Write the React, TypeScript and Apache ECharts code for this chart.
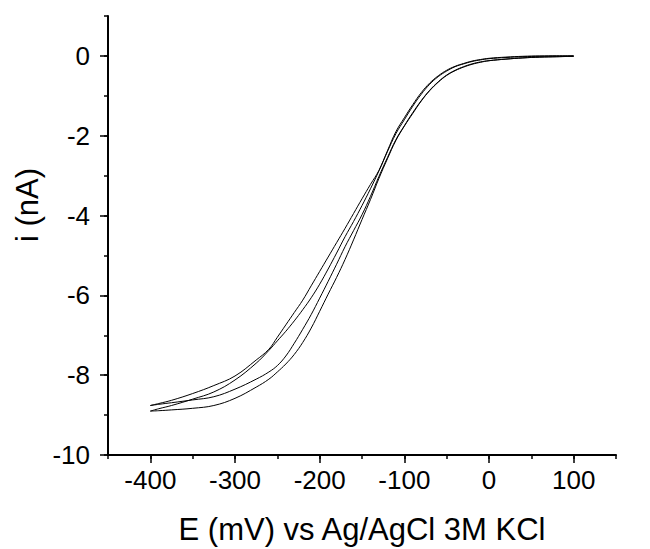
import React, { useEffect, useRef } from "react";
import * as echarts from "echarts";

const potential = [-400, -390, -375, -350, -325, -300, -275, -260, -250, -240, -230, -220, -210, -200, -190, -180, -170, -160, -150, -140, -130, -120, -110, -100, -90, -80, -70, -60, -50, -40, -30, -20, -10, 0, 20, 40, 60, 80, 100];

const trace1 = [-8.76, -8.71, -8.63, -8.46, -8.26, -8.02, -7.62, -7.35, -7.05, -6.74, -6.43, -6.12, -5.76, -5.40, -5.04, -4.68, -4.32, -3.95, -3.58, -3.22, -2.87, -2.38, -1.90, -1.55, -1.22, -0.92, -0.68, -0.50, -0.36, -0.26, -0.19, -0.13, -0.09, -0.06, -0.03, -0.01, 0, 0, 0];
const trace2 = [-8.90, -8.84, -8.76, -8.60, -8.42, -8.12, -7.70, -7.38, -7.14, -6.90, -6.64, -6.36, -6.06, -5.72, -5.34, -4.94, -4.53, -4.15, -3.75, -3.33, -2.88, -2.40, -1.95, -1.60, -1.26, -0.96, -0.71, -0.52, -0.38, -0.27, -0.20, -0.14, -0.10, -0.07, -0.04, -0.02, -0.01, 0, 0];
const trace3 = [-8.76, -8.73, -8.69, -8.62, -8.54, -8.35, -8.10, -7.92, -7.76, -7.52, -7.20, -6.85, -6.48, -6.07, -5.65, -5.22, -4.78, -4.38, -3.98, -3.52, -3.02, -2.55, -2.10, -1.75, -1.42, -1.12, -0.86, -0.65, -0.48, -0.36, -0.27, -0.20, -0.15, -0.12, -0.08, -0.05, -0.03, -0.02, -0.01];
const trace4 = [-8.90, -8.89, -8.87, -8.83, -8.76, -8.58, -8.30, -8.10, -7.92, -7.72, -7.48, -7.18, -6.82, -6.40, -5.97, -5.55, -5.10, -4.61, -4.10, -3.60, -3.07, -2.58, -2.12, -1.76, -1.44, -1.13, -0.87, -0.66, -0.49, -0.37, -0.28, -0.21, -0.16, -0.12, -0.08, -0.05, -0.03, -0.02, -0.01];

const xTickValues = [-400, -300, -200, -100, 0, 100];
const yTickValues = [-10, -8, -6, -4, -2, 0];
const xTitle = "E (mV) vs Ag/AgCl 3M KCl";
const yTitle = "i (nA)";

const FONT = "'Liberation Sans', Arial, sans-serif";

export default function App() {
  const ref = useRef<HTMLDivElement>(null);
  useEffect(() => {
    if (!ref.current) return;
    const chart = echarts.init(ref.current, null, { renderer: "svg" });
    const traces = [trace1, trace2, trace3, trace4];
    const axisLine = { show: true, onZero: false, lineStyle: { color: "#000", width: 2 } };
    chart.setOption({
      animation: false,
      backgroundColor: "#fff",
      grid: { left: 108, top: 16, right: 34, bottom: 94, containLabel: false },
      xAxis: [
        {
          type: "value",
          min: -450,
          max: 150,
          interval: 50,
          position: "bottom",
          axisLine,
          axisTick: { show: true, customValues: xTickValues, length: 8, lineStyle: { color: "#000", width: 1.5 } },
          axisLabel: { customValues: xTickValues, color: "#000", fontSize: 26, fontFamily: FONT, margin: 12 },
          splitLine: { show: false },
        },
        {
          type: "value",
          min: -450,
          max: 150,
          interval: 50,
          position: "bottom",
          axisLine: { show: false, onZero: false },
          axisTick: { show: true, length: 4, lineStyle: { color: "#000", width: 1.5 } },
          axisLabel: { show: false },
          splitLine: { show: false },
        },
      ],
      yAxis: [
        {
          type: "value",
          min: -10,
          max: 1,
          interval: 1,
          position: "left",
          axisLine,
          axisTick: { show: true, customValues: yTickValues, length: 8, lineStyle: { color: "#000", width: 1.5 } },
          axisLabel: { customValues: yTickValues, color: "#000", fontSize: 26, fontFamily: FONT, margin: 18 },
          splitLine: { show: false },
        },
        {
          type: "value",
          min: -10,
          max: 1,
          interval: 1,
          position: "left",
          axisLine: { show: false, onZero: false },
          axisTick: { show: true, length: 4, lineStyle: { color: "#000", width: 1.5 } },
          axisLabel: { show: false },
          splitLine: { show: false },
        },
      ],
      graphic: [
        {
          type: "text",
          x: 362,
          y: 529,
          style: { text: xTitle, fontSize: 31, fontFamily: FONT, fill: "#000", align: "center", verticalAlign: "middle" },
        },
        {
          type: "text",
          x: 27,
          y: 205,
          rotation: Math.PI / 2,
          style: { text: yTitle, fontSize: 31, fontFamily: FONT, fill: "#000", align: "center", verticalAlign: "middle" },
        },
      ],
      series: traces.map((t, k) => ({
        type: "line",
        name: "trace" + (k + 1),
        xAxisIndex: 0,
        yAxisIndex: 0,
        data: potential.map((e, j) => [e, t[j]]),
        showSymbol: false,
        smooth: 0.4,
        lineStyle: { color: "#000", width: 1 },
      })),
    });
    return () => chart.dispose();
  }, []);
  return <div ref={ref} style={{ position: "fixed", left: 0, top: 0, width: 650, height: 549 }} />;
}
